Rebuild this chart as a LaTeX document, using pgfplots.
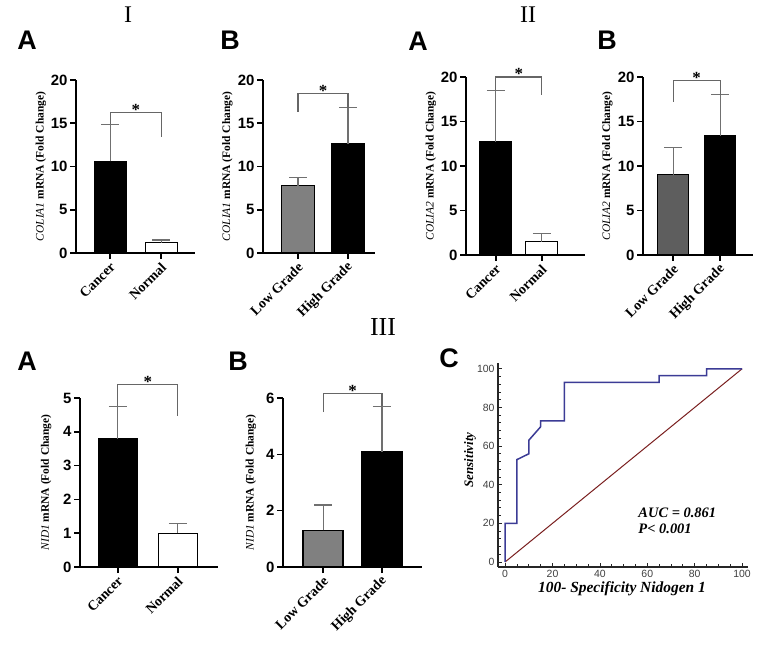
\documentclass[border=0pt]{standalone}
\usepackage{fontspec}
\setmainfont{Liberation Serif}
\setsansfont{Liberation Sans}
\usepackage{pgfplots}
\pgfplotsset{compat=1.18}
\definecolor{errgray}{HTML}{707070}
\definecolor{brgray}{HTML}{666666}
\definecolor{midgray}{HTML}{808080}
\definecolor{darkgray2}{HTML}{5E5E5E}
\definecolor{rocblue}{HTML}{3C3C96}
\definecolor{rocred}{HTML}{7A1F1F}
\pgfplotsset{
  barax/.style={
    scale only axis, axis lines=left, clip=false, anchor=south west,
    axis line style={line width=1.8bp,-},
    tick style={line width=1.6bp,black},
    tick align=outside, major tick length=6bp,
    ymin=0, xtick={0,1},
    /pgf/number format/assume math mode=true,
    yticklabel style={font=\sffamily\bfseries\fontsize{15}{15}\selectfont, xshift=1bp},
    xticklabel style={rotate=45, anchor=east, yshift=-6bp, xshift=1bp, font=\bfseries\fontsize{14}{14}\selectfont},
    ylabel style={anchor=center, font=\bfseries\fontsize{11.5}{12}\selectfont},
  },
  errbars/.style={error bars/.cd, y dir=plus, y explicit,
    error bar style={line width=1.1bp, errgray},
    error mark options={rotate=90, mark size=9bp, line width=1.1bp, errgray}},
  brk/.style={brgray, line width=1.1bp, sharp plot, mark=none},
}
\newcommand{\sigstar}[2]{\node[font=\bfseries\fontsize{17}{17}\selectfont, anchor=base, inner sep=0pt] at (axis cs:0.5,#1) [yshift=#2] {*};}
\begin{document}
\begin{tikzpicture}
\path[use as bounding box, fill=white] (0,0) rectangle (771bp,653bp);
% panel labels
\node[font=\fontsize{24}{24}\selectfont] at (128bp,638bp) {I};
\node[font=\fontsize{24}{24}\selectfont] at (528bp,638bp) {II};
\node[font=\fontsize{26}{26}\selectfont] at (383bp,326bp) {III};
\begin{scope}[every node/.style={font=\sffamily\bfseries\fontsize{27}{27}\selectfont}]
\node at (27bp,613bp) {A};
\node at (230bp,613bp) {B};
\node at (418bp,612bp) {A};
\node at (607bp,613bp) {B};
\node at (27bp,292bp) {A};
\node at (238bp,292bp) {B};
\node at (449bp,295bp) {C};
\end{scope}

% I-A
\begin{axis}[barax, at={(76bp,400bp)}, width=119bp, height=173bp,
  xmin=-0.67, xmax=1.66, ymax=20, ytick={0,5,10,15,20},
  xticklabels={Cancer,Normal},
  ylabel={\textit{\mdseries COLIA1} mRNA (Fold Change)},
  ylabel style={at={(axis description cs:-0.294,0.5)}}]
\addplot[ybar, bar width=32bp, bar shift=0pt, fill=black, draw=black, line width=1.2bp, errbars] coordinates {(0,10.6) +- (0,4.3)};
\addplot[ybar, bar width=32bp, bar shift=0pt, fill=white, draw=black, line width=1.2bp, errbars] coordinates {(1,1.2) +- (0,0.3)};
\addplot[brk] coordinates {(0,14.9) (0,16.2) (1,16.2) (1,13.4)};
\sigstar{16.2}{-3bp}
\end{axis}

% I-B
\begin{axis}[barax, at={(263bp,400bp)}, width=112bp, height=173bp,
  xmin=-0.7, xmax=1.54, ymax=20, ytick={0,5,10,15,20},
  xticklabels={Low Grade,High Grade},
  ylabel={\textit{\mdseries COLIA1} mRNA (Fold Change)},
  ylabel style={at={(axis description cs:-0.317,0.5)}}]
\addplot[ybar, bar width=33bp, bar shift=0pt, fill=midgray, draw=black, line width=1.2bp, errbars] coordinates {(0,7.8) +- (0,0.9)};
\addplot[ybar, bar width=32bp, bar shift=0pt, fill=black, draw=black, line width=1.2bp, errbars] coordinates {(1,12.6) +- (0,4.2)};
\addplot[brk] coordinates {(0,16.3) (0,18.4) (1,18.4) (1,16.8)};
\sigstar{18.4}{-3bp}
\end{axis}

% II-A
\begin{axis}[barax, at={(466bp,398bp)}, width=119bp, height=178bp,
  xmin=-0.65, xmax=1.94, ymax=20, ytick={0,5,10,15,20},
  xticklabels={Cancer,Normal},
  ylabel={\textit{\mdseries COLIA2} mRNA (Fold Change)},
  ylabel style={at={(axis description cs:-0.294,0.5)}}]
\addplot[ybar, bar width=32bp, bar shift=0pt, fill=black, draw=black, line width=1.2bp, errbars] coordinates {(0,12.7) +- (0,5.8)};
\addplot[ybar, bar width=32bp, bar shift=0pt, fill=white, draw=black, line width=1.2bp, errbars] coordinates {(1,1.5) +- (0,0.9)};
\addplot[brk] coordinates {(0,18.5) (0,20) (1,20) (1,18.0)};
\sigstar{20}{-3bp}
\end{axis}

% II-B
\begin{axis}[barax, at={(643bp,398bp)}, width=110bp, height=178bp,
  xmin=-0.64, xmax=1.70, ymax=20, ytick={0,5,10,15,20},
  xticklabels={Low Grade,High Grade},
  ylabel={\textit{\mdseries COLIA2} mRNA (Fold Change)},
  ylabel style={at={(axis description cs:-0.323,0.5)}}]
\addplot[ybar, bar width=31bp, bar shift=0pt, fill=darkgray2, draw=black, line width=1.2bp, errbars] coordinates {(0,9.0) +- (0,3.1)};
\addplot[ybar, bar width=31bp, bar shift=0pt, fill=black, draw=black, line width=1.2bp, errbars] coordinates {(1,13.4) +- (0,4.6)};
\addplot[brk] coordinates {(0,17.2) (0,19.6) (1,19.6) (1,18.0)};
\sigstar{19.6}{-3bp}
\end{axis}

% III-A
\begin{axis}[barax, at={(80bp,86bp)}, width=138bp, height=169bp,
  xmin=-0.63, xmax=1.67, ymax=5, ytick={0,1,2,3,4,5},
  xticklabels={Cancer,Normal},
  ylabel={\textit{\mdseries NID1} mRNA (Fold Change)},
  ylabel style={at={(axis description cs:-0.246,0.5)}}]
\addplot[ybar, bar width=39bp, bar shift=0pt, fill=black, draw=black, line width=1.2bp, errbars] coordinates {(0,3.8) +- (0,0.95)};
\addplot[ybar, bar width=39bp, bar shift=0pt, fill=white, draw=black, line width=1.2bp, errbars] coordinates {(1,1.0) +- (0,0.3)};
\addplot[brk] coordinates {(0,4.75) (0,5.4) (1,5.4) (1,4.47)};
\sigstar{5.4}{-3bp}
\end{axis}

% III-B
\begin{axis}[barax, at={(283bp,86bp)}, width=139bp, height=169bp,
  xmin=-0.68, xmax=1.68, ymax=6, ytick={0,2,4,6},
  xticklabels={Low Grade,High Grade},
  ylabel={\textit{\mdseries NID1} mRNA (Fold Change)},
  ylabel style={at={(axis description cs:-0.23,0.5)}}]
\addplot[ybar, bar width=40bp, bar shift=0pt, fill=midgray, draw=black, line width=1.2bp, errbars] coordinates {(0,1.3) +- (0,0.9)};
\addplot[ybar, bar width=40bp, bar shift=0pt, fill=black, draw=black, line width=1.2bp, errbars] coordinates {(1,4.1) +- (0,1.6)};
\addplot[brk] coordinates {(0,5.5) (0,6.17) (1,6.17) (1,5.7)};
\sigstar{6.17}{-3bp}
\end{axis}

% III-C ROC
\begin{axis}[scale only axis, at={(498bp,86bp)}, anchor=south west, width=250bp, height=204bp,
  axis lines=left, axis line style={line width=1.2bp, black!85, -}, clip=false,
  xmin=-3, xmax=102.5, ymin=-2.6, ymax=103,
  xtick={0,20,...,100}, ytick={0,20,...,100}, minor x tick num=3, minor y tick num=4,
  tick align=inside, major tick length=4bp, minor tick length=2.5bp,
  tick style={line width=0.8bp, black!85},
  ticklabel style={font=\sffamily\fontsize{10.5}{10.5}\selectfont, text=black!75},
  /pgf/number format/assume math mode=true,
  xlabel={100- Specificity Nidogen 1}, ylabel={Sensitivity},
  xlabel style={at={(axis description cs:0.496,-0.108)}, anchor=center, font=\bfseries\itshape\fontsize{15.5}{16}\selectfont},
  ylabel style={at={(axis description cs:-0.112,0.525)}, anchor=center, font=\bfseries\itshape\fontsize{13}{13}\selectfont}]
\addplot[rocred, line width=1bp, mark=none] coordinates {(0,0) (100,100)};
\addplot[rocblue, line width=1.5bp, mark=none, sharp plot] coordinates {(0,0) (0,20) (5,20) (5,53) (10,56) (10,63) (15,70) (15,73) (25,73) (25,93) (65,93) (65,96.5) (85,96.5) (85,100) (100,100)};
\node[anchor=west, font=\bfseries\itshape\fontsize{14.5}{15}\selectfont] at (axis cs:54.8,25.5) {AUC = 0.861};
\node[anchor=west, font=\bfseries\itshape\fontsize{14.5}{15}\selectfont] at (axis cs:54.8,17.3) {P< 0.001};
\end{axis}
\end{tikzpicture}
\end{document}
